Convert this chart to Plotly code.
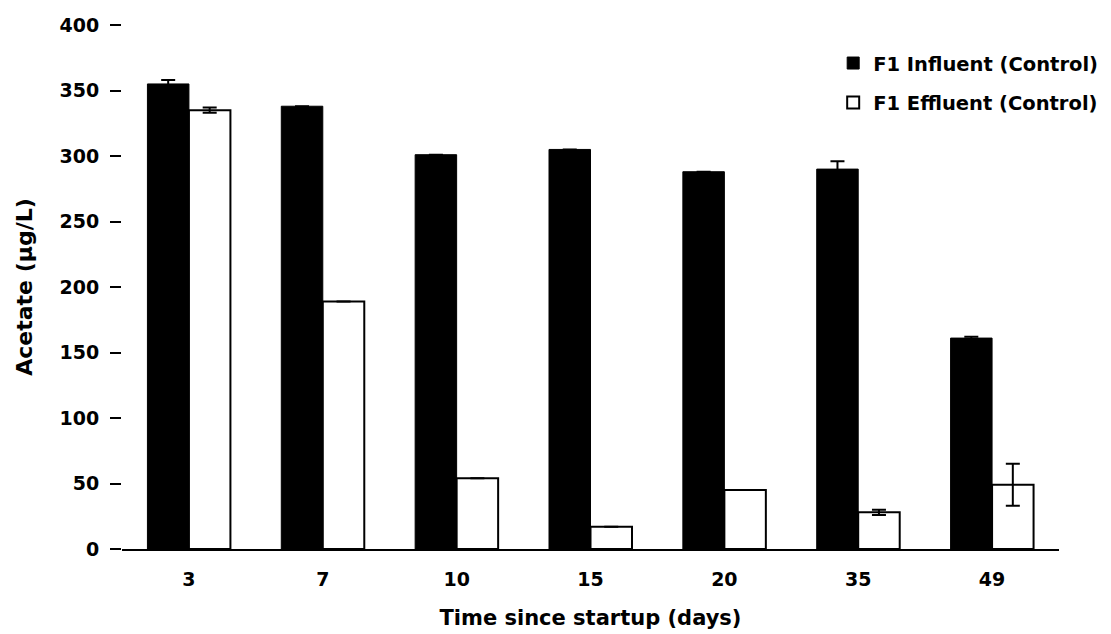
import plotly.graph_objects as go

days = ["3", "7", "10", "15", "20", "35", "49"]
influent = [355, 338, 301, 305, 288, 290, 161]
influent_err = [3, 0, 0, 0, 0, 6, 1]
effluent = [335, 189, 54, 17, 45, 28, 49]
effluent_err = [2, 0, 0, 0, 0, 2, 16]
y_ticks = [0, 50, 100, 150, 200, 250, 300, 350, 400]

FONT = "DejaVu Sans, Verdana, sans-serif"

fig = go.Figure()
fig.add_trace(go.Bar(
    x=days, y=influent, name="F1 Influent (Control)", legendgroup="a",
    marker=dict(color="black", line=dict(color="black", width=1)),
    error_y=dict(type="data", array=influent_err, color="black", thickness=2, width=7, visible=True),
))
fig.add_trace(go.Bar(
    x=days, y=effluent, name="F1 Effluent (Control)", legendgroup="b",
    marker=dict(color="white", line=dict(color="black", width=2)),
    error_y=dict(type="data", array=effluent_err, color="black", thickness=2, width=7, visible=True),
))

fig.update_layout(
    width=1111, height=634,
    paper_bgcolor="white", plot_bgcolor="white",
    margin=dict(l=114, r=60, t=17, b=93, autoexpand=False),
    barmode="group", bargap=0.38, bargroupgap=0,
    font=dict(family=FONT, color="black", size=16),
    showlegend=True,
    legend=dict(x=0.759, y=0.964, xanchor="left", yanchor="top",
                font=dict(family=FONT, size=19.5, color="black", weight="bold"),
                tracegroupgap=11, itemwidth=30, bgcolor="rgba(0,0,0,0)"),
    xaxis=dict(
        type="category", showline=True, linecolor="black", linewidth=2,
        ticks="", showgrid=False, zeroline=False,
        ticklabelstandoff=12,
        tickfont=dict(family=FONT, size=19, weight="bold"),
        title=dict(text="Time since startup (days)", standoff=22,
                   font=dict(family=FONT, size=21, weight="bold")),
    ),
    yaxis=dict(
        range=[0, 400], tickvals=y_ticks, showline=False, showgrid=False, zeroline=False,
        ticks="outside", ticklen=11, tickwidth=2, tickcolor="black",
        ticklabelstandoff=7,
        tickfont=dict(family=FONT, size=19, weight="bold"),
        title=dict(text="Acetate (µg/L)", standoff=20,
                   font=dict(family=FONT, size=22, weight="bold")),
    ),
)

fig.write_html("out.html")
